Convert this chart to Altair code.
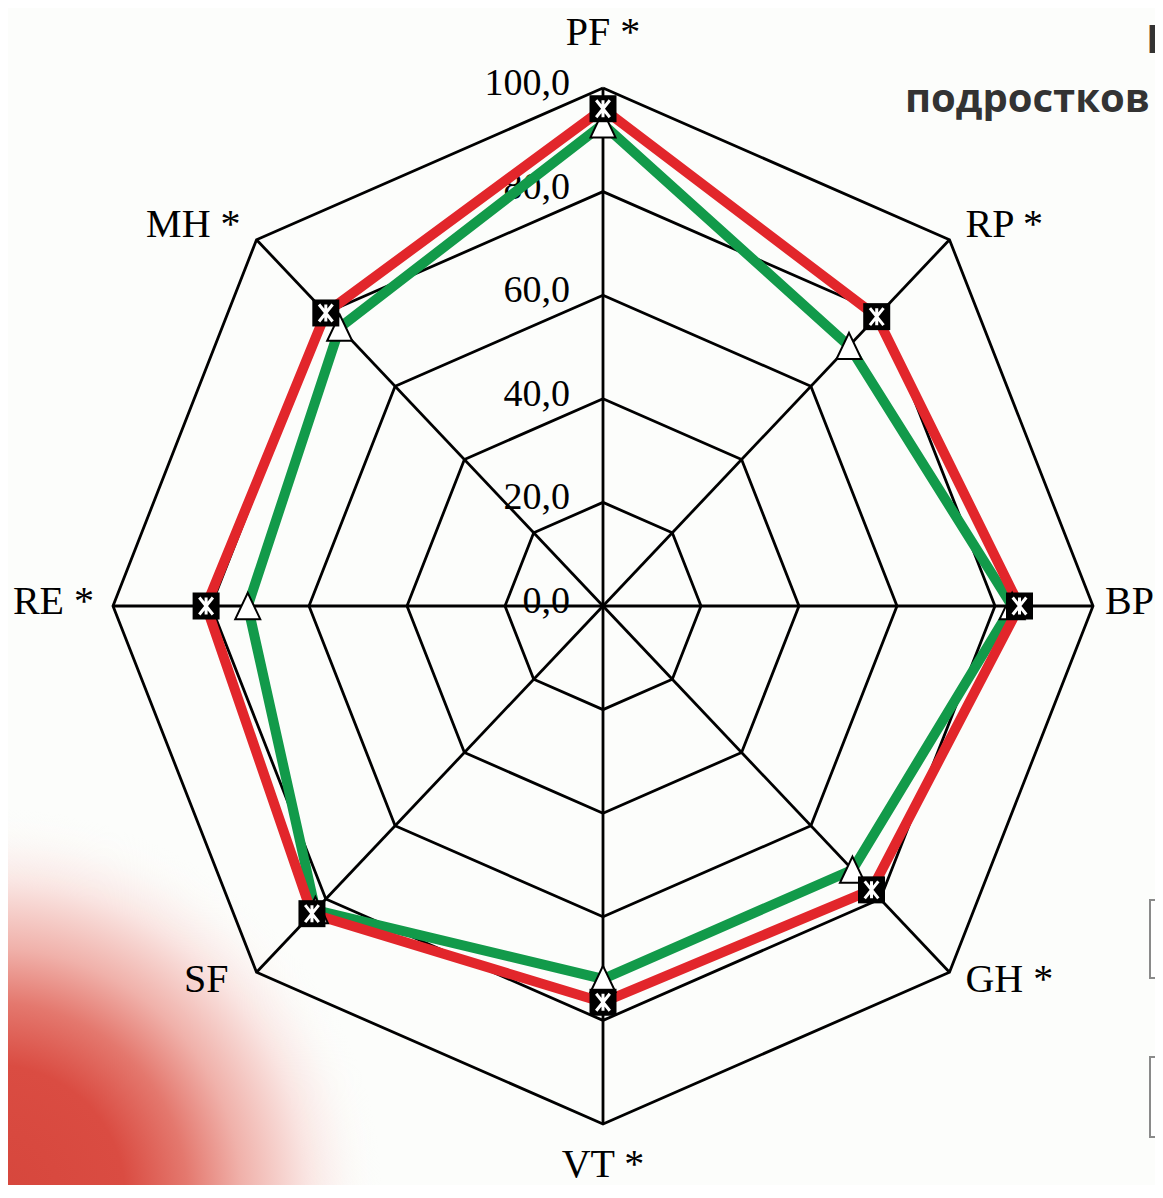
import math
import altair as alt
import pandas as pd

# ---------------- data ----------------
categories = ["PF", "RP", "BP", "GH", "VT", "SF", "RE", "MH"]
category_labels = ["PF *", "RP *", "BP", "GH *", "VT *", "SF", "RE *", "MH *"]
red_values = [96.0, 79.0, 85.0, 77.5, 76.5, 84.0, 81.0, 80.0]
green_values = [93.0, 71.0, 83.5, 72.0, 72.0, 83.0, 72.5, 76.0]
tick_values = [0, 20, 40, 60, 80, 100]
tick_labels = ["0,0", "20,0", "40,0", "60,0", "80,0", "100,0"]
title_lines = ["П", "подростков с"]

# ---------------- layout ----------------
W, H = 1147, 1177
CX, CY = 595, 598          # chart centre inside plot area (px)
PX_X, PX_Y = 4.9, 5.18     # px per unit horizontally / vertically
XDOM = [-CX / PX_X, (W - CX) / PX_X]
YDOM = [-(H - CY) / PX_Y, CY / PX_Y]

RED = "#e2262b"
GREEN = "#129a4a"
SERIF = "Liberation Serif"

n = len(categories)
angles = [2 * math.pi * i / n for i in range(n)]


def polar(r, a):
    return r * math.sin(a), r * math.cos(a)


xs = alt.Scale(domain=XDOM, nice=False, zero=False)
ys = alt.Scale(domain=YDOM, nice=False, zero=False)


def X(f="x"):
    return alt.X(f"{f}:Q", scale=xs, axis=None)


def Y(f="y"):
    return alt.Y(f"{f}:Q", scale=ys, axis=None)


# grid octagons
grid_rows = []
for lv in tick_values[1:]:
    for j in range(n + 1):
        x, y = polar(lv, angles[j % n])
        grid_rows.append({"level": lv, "order": j, "x": x, "y": y})
grid_df = pd.DataFrame(grid_rows)

# spokes
spoke_rows = []
for a in angles:
    x2, y2 = polar(tick_values[-1], a)
    spoke_rows.append({"x": 0.0, "y": 0.0, "x2": x2, "y2": y2})
spoke_df = pd.DataFrame(spoke_rows)


def series_df(vals, closed):
    rows = []
    m = n + 1 if closed else n
    for j in range(m):
        x, y = polar(vals[j % n], angles[j % n])
        rows.append({"order": j, "x": x, "y": y, "cat": categories[j % n], "v": vals[j % n]})
    return pd.DataFrame(rows)


red_line_df = series_df(red_values, True)
green_line_df = series_df(green_values, True)
red_pt_df = series_df(red_values, False)
green_pt_df = series_df(green_values, False)

# tick labels
tick_df = pd.DataFrame({"x": [0.0] * len(tick_values), "y": tick_values, "t": tick_labels})

# category labels (pixel offsets from the outer vertex)
extra_dx = {"SF": -12.0, "BP": -7.0}
lab_rows = []
for a, cat, lab in zip(angles, categories, category_labels):
    s, c = math.sin(a), math.cos(a)
    vx, vy = polar(tick_values[-1], a)
    if abs(s) < 0.1:
        dxp, dyp, al = 0.0, (55.0 if c > 0 else -41.0), "center"
    elif abs(c) < 0.1:
        dxp, dyp, al = 19.0 * (1 if s > 0 else -1), 4.0, ("left" if s > 0 else "right")
    else:
        dxp, dyp, al = 16.0 * (1 if s > 0 else -1), (15.0 if c > 0 else -8.0), ("left" if s > 0 else "right")
    dxp += extra_dx.get(cat, 0.0)
    lab_rows.append({"x": vx + dxp / PX_X, "y": vy + dyp / PX_Y, "t": lab, "al": al})
lab_df = pd.DataFrame(lab_rows)

# ---------------- layers ----------------
dummy = pd.DataFrame({"a": [0]})

bg_gradient = {
    "gradient": "radial",
    "x1": 0, "y1": 1.01, "x2": 0, "y2": 1.01, "r1": 0, "r2": 0.33,
    "stops": [
        {"offset": 0.0, "color": "#d6463c"},
        {"offset": 0.34, "color": "#da4c42"},
        {"offset": 0.5, "color": "#e4786e"},
        {"offset": 0.64, "color": "#f0b1aa"},
        {"offset": 0.8, "color": "#f9e2df"},
        {"offset": 1.0, "color": "rgba(252,253,251,0)"},
    ],
}
background = alt.Chart(dummy).mark_rect(fill=bg_gradient).encode(
    x=alt.value(0), x2=alt.value(W), y=alt.value(0), y2=alt.value(H)
)

box1 = alt.Chart(dummy).mark_rect(fill="white", stroke="#8a8a8a", strokeWidth=2).encode(
    x=alt.value(1142), x2=alt.value(1190), y=alt.value(892), y2=alt.value(970)
)
box2 = alt.Chart(dummy).mark_rect(fill="white", stroke="#8a8a8a", strokeWidth=2).encode(
    x=alt.value(1142), x2=alt.value(1190), y=alt.value(1049), y2=alt.value(1129)
)

title1 = alt.Chart(pd.DataFrame({"t": [title_lines[0]]})).mark_text(
    font="Open Sans", fontWeight="bold", fontSize=40, color="#333333",
    align="left", baseline="alphabetic"
).encode(x=alt.value(1138), y=alt.value(45), text="t:N")
title2 = alt.Chart(pd.DataFrame({"t": [title_lines[1]]})).mark_text(
    font="Open Sans", fontWeight="bold", fontSize=40, color="#333333",
    align="left", baseline="alphabetic"
).encode(x=alt.value(897), y=alt.value(104), text="t:N")

grid = alt.Chart(grid_df).mark_line(color="black", strokeWidth=2.8).encode(
    x=X(), y=Y(), order="order:Q", detail="level:N"
)
spokes = alt.Chart(spoke_df).mark_rule(color="black", strokeWidth=2.8).encode(
    x=X(), y=Y(), x2="x2:Q", y2="y2:Q"
)

ticks = alt.Chart(tick_df).mark_text(
    font=SERIF, fontSize=38, color="black", align="right", baseline="middle", dx=-33, dy=-4
).encode(x=X(), y=Y(), text="t:N")

label_layers = []
for al in ["left", "right", "center"]:
    label_layers.append(
        alt.Chart(lab_df).transform_filter(alt.datum.al == al).mark_text(
            font=SERIF, fontSize=40, color="black", align=al, baseline="middle"
        ).encode(x=X(), y=Y(), text="t:N")
    )

green_line = alt.Chart(green_line_df).mark_line(color=GREEN, strokeWidth=10).encode(
    x=X(), y=Y(), order="order:Q"
)
red_line = alt.Chart(red_line_df).mark_line(color=RED, strokeWidth=10).encode(
    x=X(), y=Y(), order="order:Q"
)

tri_path = "M0,-1.05L1,1.05L-1,1.05Z"
green_pts = alt.Chart(green_pt_df).mark_point(
    shape=tri_path, size=625, filled=True, fill="white", stroke="black", strokeWidth=2, opacity=1
).encode(x=X(), y=Y())

red_sq = alt.Chart(red_pt_df).mark_square(size=729, color="black", opacity=1).encode(x=X(), y=Y())
star_path = "M-0.8,-1L0.8,1M0.8,-1L-0.8,1M0,-1L0,1"
red_star = alt.Chart(red_pt_df).mark_point(
    shape=star_path, size=289, filled=False, stroke="white", strokeWidth=3, opacity=1
).encode(x=X(), y=Y())

chart = alt.layer(
    background, box1, box2, title1, title2,
    grid, spokes, ticks, *label_layers,
    green_line, red_line, green_pts, red_sq, red_star,
).properties(
    width=W, height=H, background="#fcfdfb", padding=0,
    autosize=alt.AutoSizeParams(type="none"),
).configure_view(stroke=None)

chart.save("out.html", embed_options={"renderer": "svg", "actions": False})
